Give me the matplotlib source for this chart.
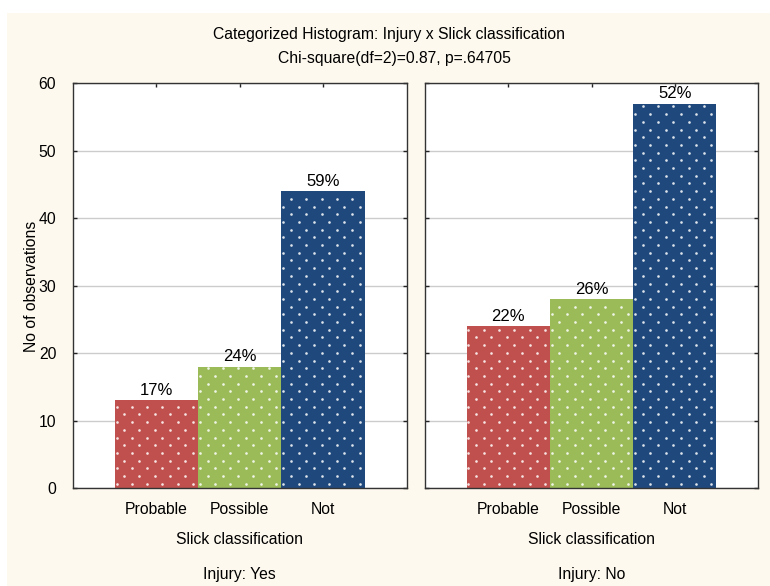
import numpy as np
import matplotlib
matplotlib.use("Agg")
import matplotlib.pyplot as plt
from matplotlib.patches import Rectangle

categories = ["Probable", "Possible", "Not"]
yes_counts = [13, 18, 44]
no_counts = [24, 28, 57]
yes_pct = ["17%", "24%", "59%"]
no_pct = ["22%", "26%", "52%"]
panel_labels = ["Injury: Yes", "Injury: No"]
yticks = [0, 10, 20, 30, 40, 50, 60]
title1 = "Categorized Histogram: Injury x Slick classification"
title2 = "Chi-square(df=2)=0.87, p=.64705"

colors = ["#c0504d", "#9bbb59", "#1f497d"]
cream = "#fef9ee"
FS = 11.3

plt.rcParams["font.family"] = ["Liberation Sans", "DejaVu Sans"]

W, H = 770, 586
fig = plt.figure(figsize=(W / 100, H / 100), dpi=100)
fig.patch.set_facecolor("white")
fig.patches.append(Rectangle((7 / W, 0), 1 - 7 / W, 1 - 13 / H, transform=fig.transFigure,
                             facecolor=cream, edgecolor="none", zorder=-10))

ax_bottom = 1 - 488 / H
ax_height = (488 - 83.3) / H
ax1 = fig.add_axes([73 / W, ax_bottom, (406.5 - 73) / W, ax_height])
ax2 = fig.add_axes([425 / W, ax_bottom, (758 - 425) / W, ax_height])

xpos = np.arange(1, len(categories) + 1)
dot_dx_px, dot_dy_px = 15.3, 7.7

for k, (ax, counts, pcts, plabel) in enumerate(zip([ax1, ax2], [yes_counts, no_counts],
                                                   [yes_pct, no_pct], panel_labels)):
    ax.set_xlim(0, 4)
    ax.set_ylim(0, 60)
    ax.set_facecolor("white")
    ax.yaxis.grid(True, color="#cccccc", linewidth=1.0, zorder=0)
    ax.set_axisbelow(True)
    bars = ax.bar(xpos, counts, width=1.0, color=colors, edgecolor="none", zorder=2)

    # pixel -> data conversion for the dot texture
    bbox = ax.get_position()
    px_per_x = bbox.width * W / 4.0
    px_per_y = bbox.height * H / 60.0
    ddx = dot_dx_px / px_per_x
    ddy = dot_dy_px / px_per_y
    for b in bars:
        x0, w, h = b.get_x(), b.get_width(), b.get_height()
        xs, ys = [], []
        i = 0
        y = ddy * 0.55
        while y < h - ddy * 0.2:
            off = (ddx / 2) * (i % 2) + ddx * 0.12
            x = x0 + off
            while x < x0 + w - ddx * 0.05:
                xs.append(x)
                ys.append(y)
                x += ddx
            y += ddy
            i += 1
        ax.scatter(xs, ys, s=3.6, color="white", alpha=0.85, linewidths=0, zorder=3)

    for xp, c, p in zip(xpos, counts, pcts):
        ax.text(xp, c + 0.35, p, ha="center", va="bottom", fontsize=12, color="black", zorder=4)

    for s in ax.spines.values():
        s.set_color("#333333")
        s.set_linewidth(1.0)
    ax.set_xticks(xpos)
    ax.set_xticklabels(categories, fontsize=FS)
    ax.set_yticks(yticks)
    ax.tick_params(axis="both", direction="in", length=3, width=1, color="#222222",
                   top=True, right=True)
    ax.tick_params(axis="x", pad=10)
    ax.tick_params(axis="y", pad=12, labelsize=FS)
    if k == 1:
        ax.set_yticklabels([])
    cx = bbox.x0 + bbox.width / 2
    fig.text(cx, 1 - 539 / H, "Slick classification", ha="center", va="center", fontsize=FS)
    fig.text(cx, 1 - 574 / H, plabel, ha="center", va="center", fontsize=FS)

fig.text(32 / W, 1 - 286 / H, "No of observations", rotation=90, ha="center", va="center",
         fontsize=FS)
fig.text(389 / W, 1 - 34 / H, title1, ha="center", va="center", fontsize=FS)
fig.text(394 / W, 1 - 58 / H, title2, ha="center", va="center", fontsize=FS)

fig.savefig("out.png", dpi=100, facecolor=fig.get_facecolor())
